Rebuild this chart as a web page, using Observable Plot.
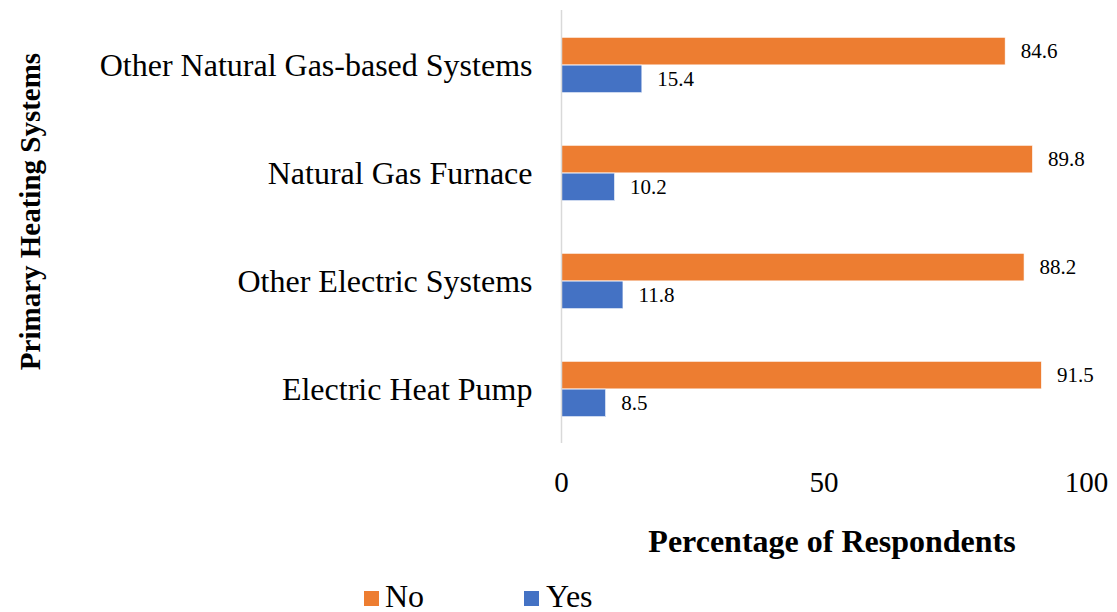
<!DOCTYPE html>
<html>
<head>
<meta charset="utf-8">
<script src="https://cdn.jsdelivr.net/npm/d3@7"></script>
<script src="https://cdn.jsdelivr.net/npm/@observablehq/plot@0.6"></script>
<style>
  html, body { margin: 0; padding: 0; background: #fff; }
  body { width: 1117px; height: 612px; overflow: hidden; font-family: 'Liberation Serif', 'Times New Roman', serif; }
  #chart svg { display: block; }
  #legend { position: relative; width: 1117px; height: 42px; }
  .item { position: absolute; font-size: 32px; line-height: 24px; color: #000; white-space: nowrap; }
  .sw { position: absolute; width: 15px; height: 15px; }
</style>
</head>
<body>
<div id="chart"></div>
<div id="legend"></div>
<script>
const categories = ["Other Natural Gas-based Systems", "Natural Gas Furnace", "Other Electric Systems", "Electric Heat Pump"];
const noValues = [84.6, 89.8, 88.2, 91.5];
const yesValues = [15.4, 10.2, 11.8, 8.5];
const xTicks = [0, 50, 100];
const seriesNames = ["No", "Yes"];
const seriesColors = ["#ED7D31", "#4472C4"];

const noData = categories.map((c, i) => ({category: c, value: noValues[i]}));
const yesData = categories.map((c, i) => ({category: c, value: yesValues[i]}));

const svgH = 570, plotTop = 10, plotBottom = 443;
const band = (plotBottom - plotTop) / categories.length;
const barH = 27.8;
const serif = "'Liberation Serif', 'Times New Roman', serif";

const chart = Plot.plot({
  width: 1117,
  height: svgH,
  marginLeft: 561,
  marginRight: 31,
  marginTop: plotTop,
  marginBottom: svgH - plotBottom,
  style: {fontFamily: serif, background: "white", color: "#000"},
  x: {domain: [0, 100], ticks: xTicks, label: null},
  y: {domain: categories, padding: 0, label: null},
  marks: [
    Plot.barX(noData, {x: "value", y: "category", fill: seriesColors[0], stroke: "white", strokeWidth: 0.6,
      insetTop: band / 2 - barH, insetBottom: band / 2}),
    Plot.barX(yesData, {x: "value", y: "category", fill: seriesColors[1], stroke: "white", strokeWidth: 0.6,
      insetTop: band / 2, insetBottom: band / 2 - barH}),
    Plot.ruleX([0], {stroke: "#d9d9d9", strokeWidth: 1.5}),
    Plot.text(noData, {x: "value", y: "category", text: d => d.value.toFixed(1), textAnchor: "start",
      dx: 15, dy: -barH / 2, fontSize: 21, fill: "#000"}),
    Plot.text(yesData, {x: "value", y: "category", text: d => d.value.toFixed(1), textAnchor: "start",
      dx: 15, dy: barH / 2, fontSize: 21, fill: "#000"}),
    Plot.axisX({ticks: xTicks, tickSize: 0, tickPadding: 28, fontSize: 29, label: null, tickFormat: d => String(d)}),
    Plot.axisY({tickSize: 0, tickPadding: 29, fontSize: 32, label: null}),
    Plot.text(["Percentage of Respondents"], {frameAnchor: "bottom", textAnchor: "middle", dx: 8, dy: 108, fontSize: 32, fontWeight: "bold", fill: "#000"}),
    Plot.text(["Primary Heating Systems"], {frameAnchor: "left", textAnchor: "middle", rotate: -90, dx: -531, dy: -15.5, fontSize: 29, fontWeight: "bold", fill: "#000"})
  ]
});
document.getElementById("chart").appendChild(chart);

const legendPos = [{sx: 364, tx: 385}, {sx: 524, tx: 546}];
const legend = document.getElementById("legend");
seriesNames.forEach((name, i) => {
  const sw = document.createElement("div");
  sw.className = "sw";
  sw.style.left = legendPos[i].sx + "px";
  sw.style.top = "21px";
  sw.style.background = seriesColors[i];
  legend.appendChild(sw);
  const t = document.createElement("div");
  t.className = "item";
  t.style.left = legendPos[i].tx + "px";
  t.style.top = "14px";
  t.textContent = name;
  legend.appendChild(t);
});
</script>
</body>
</html>
